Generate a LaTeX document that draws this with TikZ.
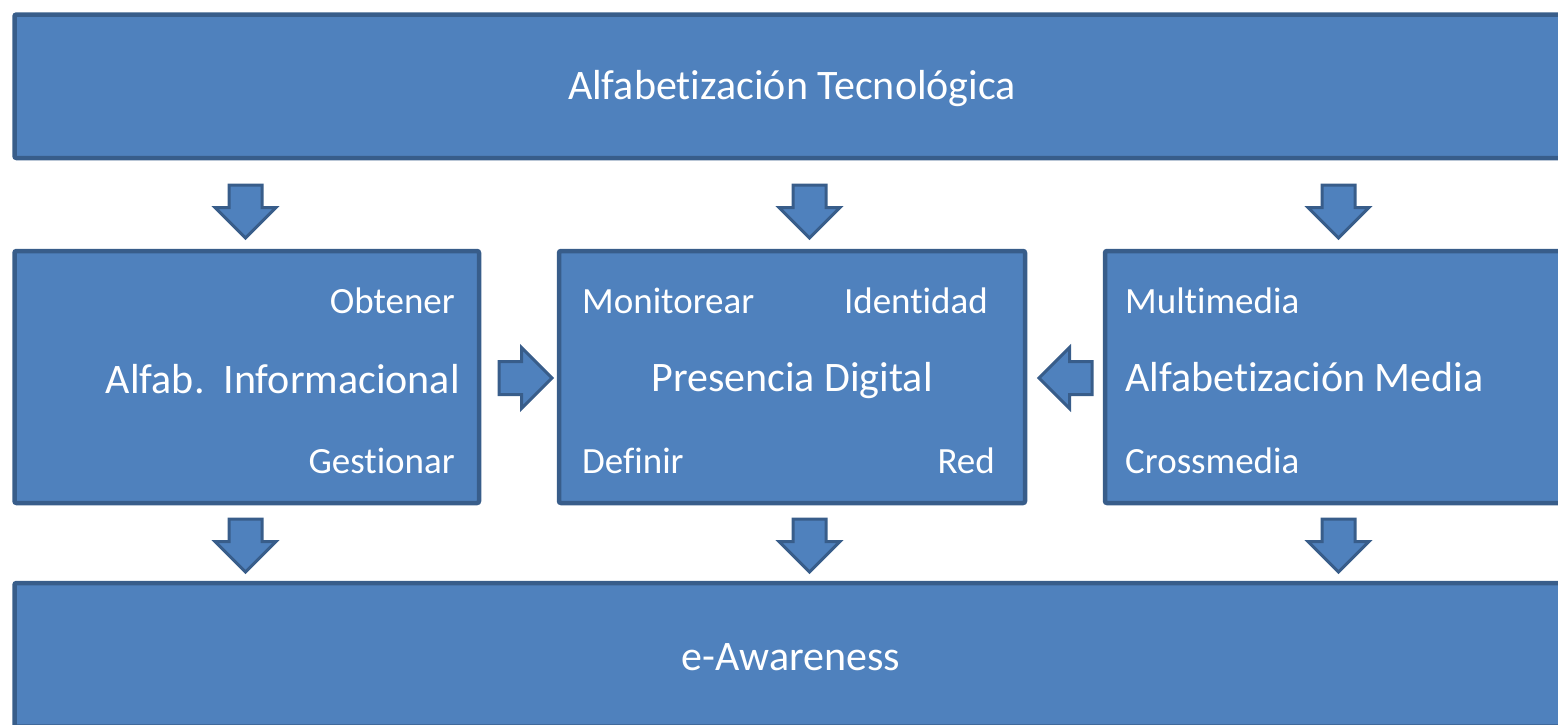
\documentclass[tikz,border=0pt]{standalone}
\usepackage{fontspec}
\setmainfont{Carlito}[Ligatures={NoCommon,NoContextual},Contextuals=NoAlternate]
\usetikzlibrary{shapes.arrows}
\definecolor{boxfill}{HTML}{4F81BD}
\definecolor{boxline}{HTML}{385D8A}

\tikzset{
  box/.style={rectangle,draw=boxline,fill=boxfill,line width=4.5pt,rounded corners=2pt,inner sep=0pt},
  blockarrow/.style={single arrow,draw=boxline,fill=boxfill,line width=3pt,inner sep=0pt,inner ysep=15pt,
    minimum height=53pt,single arrow head extend=14pt,anchor=tail},
  big/.style={text=white,inner sep=0pt,font=\fontsize{42}{50}\selectfont},
  small/.style={text=white,inner sep=0pt,font=\fontsize{37}{44}\selectfont}
}

\begin{document}
\begin{tikzpicture}[x=1pt,y=-1pt]
    \clip (0,0) rectangle (1558,724);
    \useasboundingbox (0,0) rectangle (1558,724);

    % boxes
    \node[box,minimum width=1555pt,minimum height=143.5pt] (tecno) at (792,86.25) {};
    \node[box,minimum width=464.5pt,minimum height=252pt] (infor) at (246.75,377) {};
    \node[box,minimum width=466pt,minimum height=252pt] (presen) at (792,377) {};
    \node[box,minimum width=465pt,minimum height=252pt] (media) at (1337.5,377) {};
    \node[box,minimum width=1555pt,minimum height=143.5pt] (aware) at (792,654.75) {};

    % labels
    \node[big,anchor=base] (tecnotxt) at (792,99) {Alfabetización Tecnológica};
    \node[big,anchor=base] (awaretxt) at (791,670) {e-Awareness};

    \node[small,anchor=base east] (obtener) at (455,313) {Obtener};
    \node[big,anchor=base east] (infortxt) at (460,393) {Alfab.\ \ Informacional};
    \node[small,anchor=base east] (gestionar) at (455,473) {Gestionar};

    \node[small,anchor=base west] (monitorear) at (582,313) {Monitorear};
    \node[small,anchor=base east] (identidad) at (988,313) {Identidad};
    \node[big,anchor=base] (presentxt) at (792,391) {Presencia Digital};
    \node[small,anchor=base west] (definir) at (582,473) {Definir};
    \node[small,anchor=base east] (red) at (995,473) {Red};

    \node[small,anchor=base west] (multimedia) at (1125,313) {Multimedia};
    \node[big,anchor=base west] (mediatxt) at (1125,391) {Alfabetización Media};
    \node[small,anchor=base west] (crossmedia) at (1125,473) {Crossmedia};

    % arrows
    \foreach \ax [count=\i] in {245.5,809.5,1338.5}{
      \node[blockarrow,rotate=-90] (down\i) at (\ax,183.5) {};
      \node[blockarrow,rotate=-90] (up\i) at (\ax,517.5) {};
    }
    \node[blockarrow] (toright) at (497.5,378) {};
    \node[blockarrow,rotate=180] (toleft) at (1093.5,378) {};
\end{tikzpicture}
\end{document}
